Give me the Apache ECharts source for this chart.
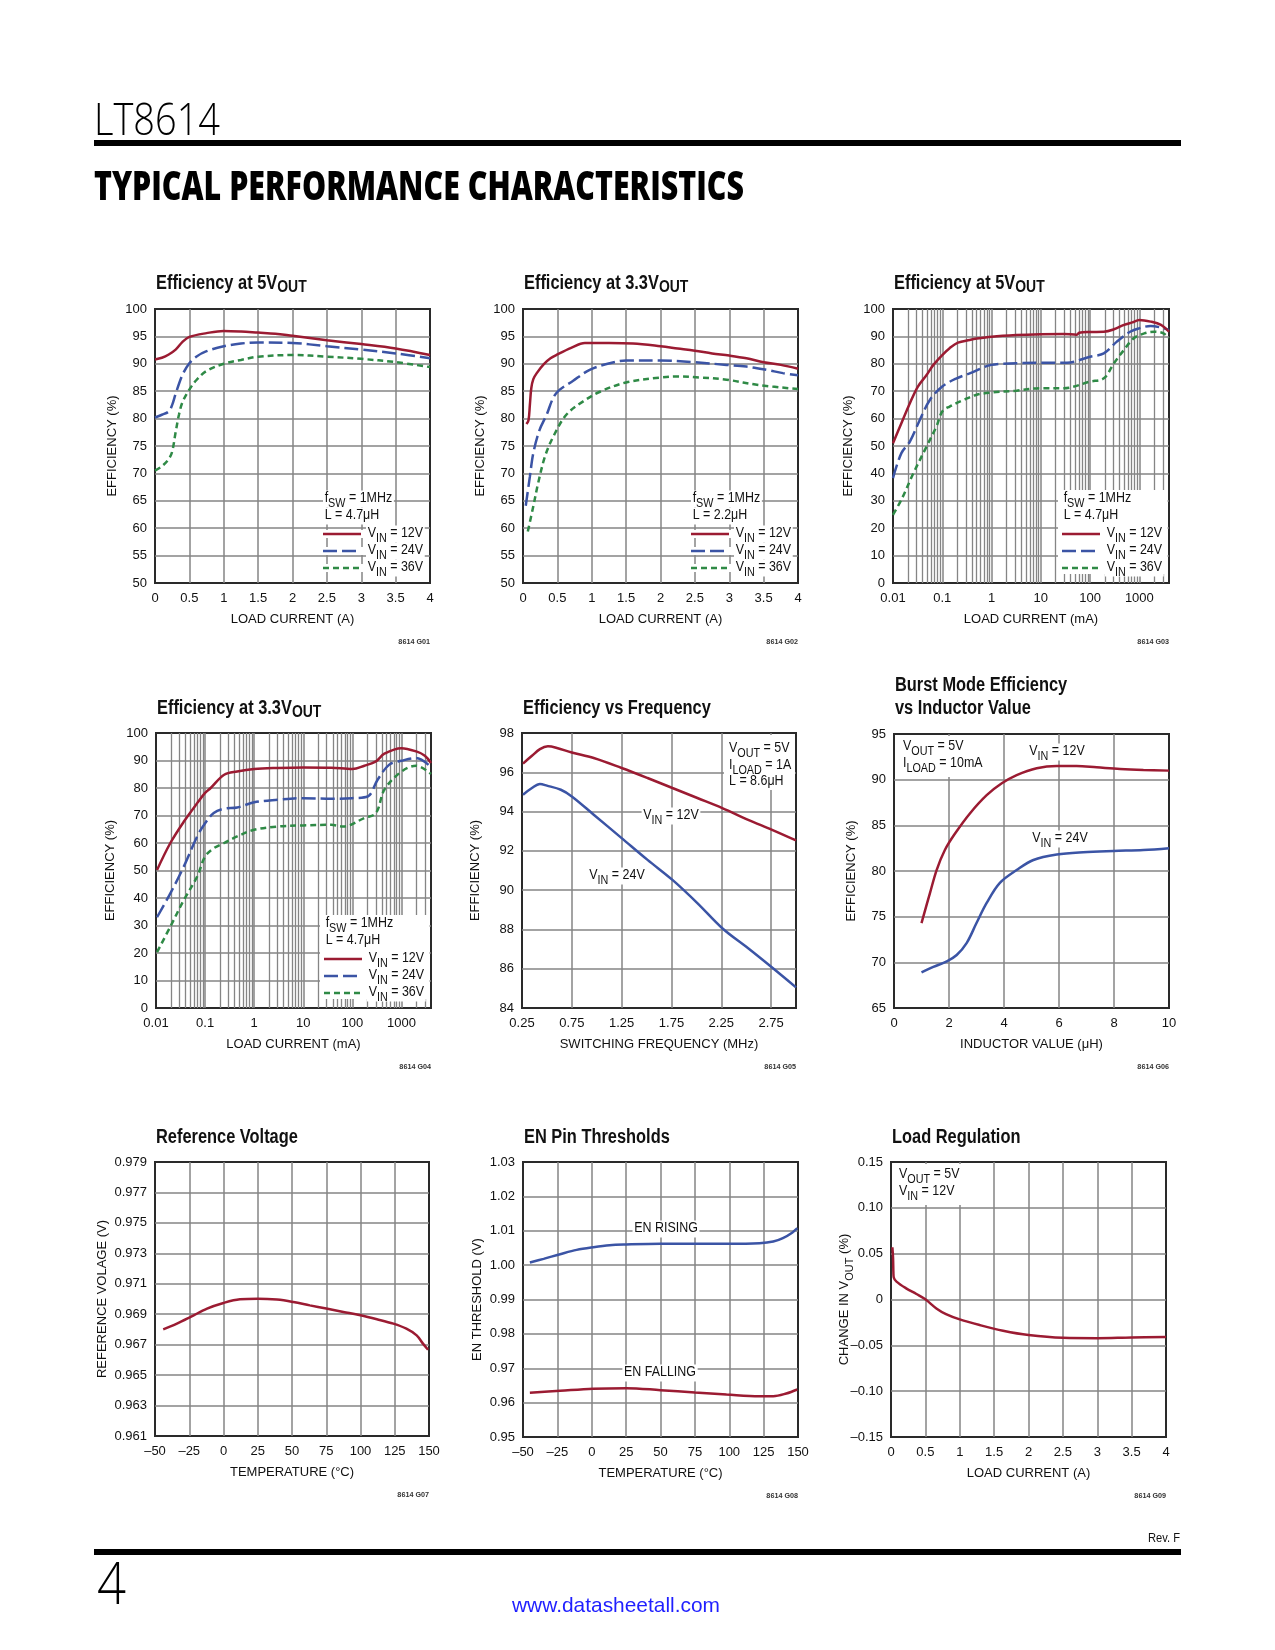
<!DOCTYPE html>
<html><head><meta charset="utf-8"><title>LT8614 Typical Performance Characteristics</title>
<script src="https://cdn.jsdelivr.net/npm/echarts@6/dist/echarts.min.js"></script>
<style>html,body{margin:0;padding:0;background:#fff;}#chart{width:1275px;height:1650px;}</style>
</head><body><div id="chart"></div>
<script>
// ================= DATA =================
// G01 Efficiency at 5VOUT, fSW=1MHz, L=4.7uH  [load current A, efficiency %]
const g1_vin12 = [[0,90.8],[0.1,91.1],[0.2,91.7],[0.3,92.6],[0.4,94.0],[0.5,94.9],[0.75,95.6],[1.0,96.0],[1.25,95.9],[1.5,95.7],[1.75,95.5],[2.0,95.1],[2.5,94.3],[3.0,93.6],[3.5,92.8],[4.0,91.6]];
const g1_vin24 = [[0,80.2],[0.1,80.7],[0.2,81.3],[0.25,82.5],[0.3,84.5],[0.4,88.0],[0.5,90.1],[0.6,91.3],[0.75,92.3],[1.0,93.2],[1.25,93.7],[1.5,93.9],[2.0,93.8],[2.5,93.2],[3.0,92.6],[3.5,91.9],[4.0,91.0]];
const g1_vin36 = [[0,70.5],[0.1,71.3],[0.2,72.6],[0.25,74.0],[0.3,77.5],[0.35,80.8],[0.4,83.0],[0.5,85.3],[0.6,87.0],[0.75,88.7],[1.0,90.0],[1.25,90.7],[1.5,91.3],[2.0,91.6],[2.5,91.3],[3.0,90.9],[3.5,90.3],[4.0,89.4]];
// G02 Efficiency at 3.3VOUT, L=2.2uH
const g2_vin12 = [[0.05,79.0],[0.08,79.7],[0.1,82.5],[0.12,85.5],[0.15,87.2],[0.2,88.3],[0.3,89.9],[0.4,91.0],[0.5,91.7],[0.7,92.9],[0.9,93.8],[1.25,93.8],[1.6,93.7],[2.0,93.2],[2.25,92.8],[2.5,92.4],[2.75,91.9],[3.0,91.5],[3.25,91.0],[3.5,90.3],[3.75,89.8],[4.0,89.1]];
const g2_vin24 = [[0.04,64.1],[0.1,69.4],[0.15,73.7],[0.24,77.9],[0.34,80.6],[0.48,84.6],[0.73,86.9],[0.97,88.9],[1.26,90.1],[1.5,90.6],[2.0,90.6],[2.47,90.3],[2.96,89.8],[3.25,89.5],[3.54,88.9],[3.78,88.3],[4.0,87.9]];
const g2_vin36 = [[0.07,59.4],[0.15,64.0],[0.22,68.2],[0.32,73.1],[0.44,76.7],[0.63,80.7],[0.87,83.1],[1.12,84.9],[1.5,86.6],[2.0,87.5],[2.23,87.7],[2.57,87.5],[2.96,87.1],[3.44,86.1],[4.0,85.4]];
// G03 Efficiency at 5VOUT (log load current, mA)
const g3_vin12 = [[0.01,51.0],[0.0148,58.3],[0.022,65.6],[0.032,71.7],[0.048,75.9],[0.066,79.6],[0.1,83.2],[0.141,85.7],[0.208,87.7],[0.36,88.7],[0.5,89.2],[1,89.9],[3.2,90.5],[10,90.8],[29,90.9],[54,90.6],[60,91.3],[100,91.6],[190,91.7],[305,92.6],[490,94.2],[720,95.1],[1000,96.0],[1700,95.4],[2750,94.2],[4000,91.7]];
const g3_vin24 = [[0.01,38.3],[0.0148,47.4],[0.022,51.6],[0.035,59.5],[0.056,66.8],[0.1,71.7],[0.196,74.7],[0.36,76.5],[1,79.6],[3.2,80.2],[10,80.4],[34,80.4],[100,82.6],[190,83.8],[350,88.1],[650,91.7],[1000,93.0],[1700,93.8],[3100,93.0],[4000,92.3]];
const g3_vin36 = [[0.01,24.9],[0.0148,30.4],[0.026,40.1],[0.048,49.8],[0.076,57.1],[0.1,62.6],[0.141,64.4],[0.27,66.8],[0.5,68.7],[1,69.5],[3.2,70.2],[10,71.1],[29,71.1],[100,73.5],[190,74.7],[305,80.2],[490,85.1],[770,89.3],[1260,91.1],[2000,91.7],[3100,91.1],[4000,89.3]];
// G04 Efficiency at 3.3VOUT (log load current, mA)
const g4_vin12 = [[0.0105,50.2],[0.0196,60.0],[0.037,67.8],[0.069,74.5],[0.1,78.2],[0.13,80.0],[0.245,84.8],[0.45,86.0],[1,86.9],[3,87.3],[10,87.5],[37,87.4],[100,86.9],[176,88.1],[303,89.7],[450,92.5],[1000,94.5],[2000,93.3],[3000,91.7],[4000,89.1]];
const g4_vin24 = [[0.0105,33.0],[0.0196,41.7],[0.037,51.5],[0.069,62.4],[0.1,67.2],[0.15,70.9],[0.245,72.5],[0.45,72.9],[1,74.8],[3,75.7],[10,76.3],[37,76.1],[100,76.3],[205,76.9],[327,83.0],[565,88.5],[1000,89.9],[2000,90.9],[4000,87.6]];
const g4_vin36 = [[0.0105,20.3],[0.0196,29.6],[0.037,39.3],[0.069,47.8],[0.1,55.1],[0.15,58.1],[0.245,60.0],[0.45,62.4],[1,64.8],[3,66.0],[10,66.4],[37,66.6],[66,66.0],[176,69.1],[303,70.9],[450,79.4],[1000,86.0],[2000,88.1],[4000,85.1]];
// G05 Efficiency vs Frequency [MHz, %]
const g5_vin12 = [[0.26,96.44],[0.35,96.84],[0.43,97.18],[0.51,97.32],[0.6,97.24],[0.75,97.01],[0.97,96.73],[1.25,96.22],[1.51,95.71],[1.76,95.20],[2.01,94.69],[2.26,94.18],[2.52,93.58],[2.76,93.07],[3.0,92.53]];
const g5_vin24 = [[0.26,94.86],[0.35,95.20],[0.43,95.40],[0.5,95.32],[0.64,95.11],[0.75,94.77],[0.97,93.84],[1.25,92.65],[1.51,91.54],[1.76,90.52],[2.01,89.34],[2.26,88.06],[2.52,87.04],[2.76,86.06],[3.0,85.05]];
// G06 Burst Mode Efficiency vs Inductor Value [uH, %]
const g6_vin12 = [[1.0,74.3],[1.31,77.6],[1.55,80.1],[1.85,82.3],[2.22,84.1],[2.76,86.3],[3.37,88.3],[3.92,89.6],[4.46,90.5],[5.19,91.25],[5.92,91.5],[6.64,91.5],[7.37,91.35],[8.22,91.17],[9.07,91.06],[10,90.99]];
const g6_vin24 = [[1.0,68.9],[1.43,69.5],[1.92,70.1],[2.28,70.8],[2.64,72.1],[3.0,74.3],[3.37,76.5],[3.85,78.7],[4.46,80.1],[5.07,81.2],[5.92,81.8],[6.88,82.06],[7.98,82.2],[9.07,82.3],[10,82.5]];
// G07 Reference Voltage [degC, V]
const g7_vref = [[-44,0.96801],[-34,0.96838],[-24,0.96882],[-12,0.96937],[0,0.96974],[12,0.96998],[25,0.97002],[39,0.96996],[51,0.96980],[63,0.96958],[75,0.96937],[87.5,0.96915],[100,0.96893],[112,0.96867],[124,0.96838],[133.5,0.96805],[141,0.96761],[145.6,0.96707],[149.3,0.96667]];
// G08 EN Pin Thresholds [degC, V]
const g8_rising = [[-45,1.00075],[-35,1.00182],[-23,1.00318],[-11,1.00444],[1,1.00522],[13,1.0058],[25,1.006],[50,1.00619],[75,1.00619],[100,1.00619],[122,1.00638],[132,1.00687],[139,1.00784],[146,1.0095],[149.5,1.01076]];
const g8_falling = [[-45,0.96285],[-23,0.96343],[1,0.96404],[25,0.96421],[50,0.96363],[75,0.96294],[98,0.96236],[122,0.96187],[132,0.96187],[141.5,0.96265],[149.5,0.96382]];
// G09 Load Regulation [A, %]
const g9_dvout = [[0.02,0.057],[0.03,0.045],[0.035,0.029],[0.04,0.024],[0.08,0.0195],[0.22,0.0122],[0.37,0.006],[0.5,0.0002],[0.66,-0.0097],[0.8,-0.0159],[1.0,-0.0217],[1.29,-0.0279],[1.63,-0.0341],[2.0,-0.0388],[2.5,-0.0418],[3.0,-0.0422],[3.5,-0.0414],[4.0,-0.041]];

// tick labels
const logTicks = ['0.01','0.1','1','10','100','1000'];
const freqTicks = ['0.25','0.75','1.25','1.75','2.25','2.75'];
const vrefTicks = ['0.961','0.963','0.965','0.967','0.969','0.971','0.973','0.975','0.977','0.979'];
const vinLabels = ['12V','24V','36V'];

// ================= STYLE / LAYOUT =================
function fontAvail(name){
  const c=document.createElement('canvas').getContext('2d');
  const t='LOAD CURRENT 0.123456789 EFFICIENCY (%)';
  c.font='40px monospace'; const a=c.measureText(t).width;
  c.font='40px "'+name+'", monospace'; const b=c.measureText(t).width;
  return Math.abs(a-b)>0.5;
}
const NARROW = fontAvail('Liberation Sans Narrow');
const FAM = NARROW ? '"Liberation Sans Narrow", "Liberation Sans", sans-serif' : '"Liberation Sans", Arial, sans-serif';
const GSCALE = NARROW ? 1 : 0.83;
const AX_FS = NARROW ? 15 : 13;
const RED='#9b1b32', BLUE='#3b54a5', GREEN='#2f8a46', GRID_C='#858585', BORDER='#2a2a2a', TXT='#111';
const DASH_B=[14,5], DASH_G=[6,4];
const HEAD_LIGHT = '"Open Sans", Lato, "Liberation Sans", sans-serif';

const GRIDS = [
 {left:155, top:309, width:275, height:274},
 {left:523, top:309, width:275, height:274},
 {left:893, top:309, width:276, height:274},
 {left:156, top:733, width:275, height:275},
 {left:522, top:733, width:274, height:275},
 {left:894, top:734, width:275, height:274},
 {left:155, top:1162, width:274, height:274},
 {left:523, top:1162, width:275, height:275},
 {left:891, top:1162, width:275, height:275}
];

function mw(text, font){ const c=document.createElement('canvas').getContext('2d'); c.font=font; return c.measureText(text).width; }

// rich text with subscripts: parts = [[str,'n'|'s'],...]
function rt(x, y, parts, o){
  o = o || {};
  const fs=o.fs||15, sfs=o.sfs||(fs-2), pad=(o.pad!=null?o.pad:6), wt=o.bold?'bold':'normal';
  const base={fontFamily:FAM, fontWeight:wt, fill:o.color||TXT, verticalAlign:'top'};
  const st={
    text: parts.map(p=>'{'+(p[1]||'n')+'|'+p[0]+'}').join(''),
    align:o.align||'left', textAlign:o.align||'left', verticalAlign:'middle', textVerticalAlign:'middle',
    rich:{ n:Object.assign({}, base, {fontSize:fs, lineHeight:fs+2}),
           s:Object.assign({}, base, {fontSize:sfs, lineHeight:sfs, padding:[pad,0,0,0]}) }
  };
  if (o.bg){ st.backgroundColor=o.bg; st.padding=[0,2]; }
  return {type:'text', x:x, y:y, z:(o.z!=null?o.z:6), scaleX:(o.scale!=null?o.scale:GSCALE), silent:true, style:st};
}
function fitText(text, x, y, fs, weight, family, targetW, color, align){
  const w = mw(text, weight+' '+fs+'px '+family);
  return {type:'text', x:x, y:y, z:6, scaleX:targetW/w, silent:true,
    style:{text:text, fontSize:fs, fontWeight:weight, fontFamily:family, fill:color||'#000',
      align:align||'left', textAlign:align||'left', verticalAlign:'middle', textVerticalAlign:'middle'}};
}

const els = [];
// header / footer
els.push({type:'rect', z:6, silent:true, shape:{x:94, y:140, width:1087, height:6}, style:{fill:'#000'}});
els.push({type:'rect', z:6, silent:true, shape:{x:94, y:1549, width:1087, height:6}, style:{fill:'#000'}});
els.push(fitText('LT8614', 94, 122, 44, 300, HEAD_LIGHT, 126, '#000'));
els.push(fitText('TYPICAL PERFORMANCE CHARACTERISTICS', 94, 189, 40, 800, HEAD_LIGHT, 650, '#000'));
els.push(fitText('4', 97, 1587, 58, 300, HEAD_LIGHT, 29, '#000'));
els.push(fitText('www.datasheetall.com', 616, 1606, 21, 'normal', FAM, 208, '#1f1fff', 'center'));
els.push(fitText('Rev. F', 1180, 1538, 13, 'normal', FAM, 32, '#111', 'right'));

// titles
const T = {fs:20, sfs:17, pad:6, bold:true, scale: NARROW?1:0.82};
const titles = [
  [[['Efficiency at 5V'],['OUT','s']]],
  [[['Efficiency at 3.3V'],['OUT','s']]],
  [[['Efficiency at 5V'],['OUT','s']]],
  [[['Efficiency at 3.3V'],['OUT','s']]],
  [[['Efficiency vs Frequency']]],
  [[['Burst Mode Efficiency']],[['vs Inductor Value']]],
  [[['Reference Voltage']]],
  [[['EN Pin Thresholds']]],
  [[['Load Regulation']]]
];
const titleY = [284,284,284,709,709,686,1138,1138,1138];
titles.forEach((lines, i) => {
  const g = GRIDS[i];
  lines.forEach((parts, k) => els.push(rt(g.left+1, titleY[i] + k*23, parts, T)));
  els.push(rt(g.left+g.width, g.top+g.height+60, [['8614 G0'+(i+1)]], {fs:8, bold:true, align:'right', scale:0.9, color:'#333'}));
});

// legends for efficiency charts
function legend(gi, L, solidBox){
  const g=GRIDS[gi], R=g.left+g.width, B=g.top+g.height, x0=R-107;
  if (solidBox) els.push({type:'rect', z:3, silent:true, shape:{x:x0-4, y:B-93, width:R-x0+2.5, height:84}, style:{fill:'#fff'}});
  els.push(rt(x0, B-84, [['f'],['SW','s'],[' = 1MHz']], {bg:'#fff'}));
  els.push(rt(x0, B-67, [['L = '+L]], {bg:'#fff'}));
  const st=[[RED,null],[BLUE,DASH_B],[GREEN,DASH_G]];
  vinLabels.forEach((lab,k) => {
    const y=B-49+k*17;
    els.push({type:'rect', z:3, silent:true, shape:{x:x0-2, y:y-4, width:43, height:8}, style:{fill:'#fff'}});
    els.push({type:'line', z:7, silent:true, shape:{x1:x0, y1:y, x2:x0+38, y2:y}, style:{stroke:st[k][0], lineWidth:2.5, lineDash:st[k][1]}});
    els.push(rt(x0+43, y, [['V'],['IN','s'],[' = '+lab]], {bg:'#fff'}));
  });
}
legend(0,'4.7μH',false); legend(1,'2.2μH',false); legend(2,'4.7μH',true); legend(3,'4.7μH',true);

// G05 annotations
els.push({type:'rect', z:3, silent:true, shape:{x:724, y:735, width:71, height:55}, style:{fill:'#fff'}});
els.push(rt(729, 749, [['V'],['OUT','s'],[' = 5V']]));
els.push(rt(729, 766, [['I'],['LOAD','s'],[' = 1A']]));
els.push(rt(729, 782, [['L = 8.6μH']]));
els.push(rt(671, 816, [['V'],['IN','s'],[' = 12V']], {bg:'#fff', align:'center'}));
els.push(rt(617, 876, [['V'],['IN','s'],[' = 24V']], {bg:'#fff', align:'center'}));
// G06 annotations
els.push({type:'rect', z:3, silent:true, shape:{x:896, y:736, width:91, height:41}, style:{fill:'#fff'}});
els.push(rt(903, 747, [['V'],['OUT','s'],[' = 5V']]));
els.push(rt(903, 764, [['I'],['LOAD','s'],[' = 10mA']]));
els.push(rt(1057, 752, [['V'],['IN','s'],[' = 12V']], {bg:'#fff', align:'center'}));
els.push(rt(1060, 839, [['V'],['IN','s'],[' = 24V']], {bg:'#fff', align:'center'}));
// G08 annotations
els.push(rt(666, 1229, [['EN RISING']], {bg:'#fff', align:'center'}));
els.push(rt(660, 1373, [['EN FALLING']], {bg:'#fff', align:'center'}));
// G09 annotations
els.push({type:'rect', z:3, silent:true, shape:{x:893, y:1164, width:70, height:41}, style:{fill:'#fff'}});
els.push(rt(899, 1175, [['V'],['OUT','s'],[' = 5V']]));
els.push(rt(899, 1192, [['V'],['IN','s'],[' = 12V']]));

// ================= AXES =================
const AL = {fontFamily:FAM, fontSize:AX_FS, color:TXT};
const NT = {fontFamily:FAM, fontSize:AX_FS, color:TXT};
function splitL(show){ return {show:show, showMinLine:false, showMaxLine:false, lineStyle:{color:GRID_C, width:1.5}}; }
function valAxis(i, o, isY){
  const ax = {type:'value', gridIndex:i, min:o.min, max:o.max, interval:o.interval,
    name:o.name, nameLocation:'middle', nameGap:o.gap, nameMoveOverlap:false,
    nameTextStyle:Object.assign({}, NT, o.rich?{rich:o.rich}:{}),
    axisLine:{show:false, onZero:false}, axisTick:{show:false},
    axisLabel:Object.assign({margin:isY?8:9}, AL),
    splitLine:splitL(o.split!==false)};
  if (o.fmt) ax.axisLabel.formatter = o.fmt;
  if (isY) ax.nameRotate = 90;
  return ax;
}
function logAxis(i, name, gap){
  return {type:'log', logBase:10, gridIndex:i, min:0.01, max:4000, name:name, nameLocation:'middle', nameGap:gap, nameMoveOverlap:false,
    nameTextStyle:NT, axisLine:{show:false, onZero:false}, axisTick:{show:false},
    axisLabel:Object.assign({margin:9, showMaxLabel:false, formatter: v => {
      const hit = logTicks.find(t => Math.abs(Math.log10(+t) - Math.log10(v)) < 1e-6); return hit || ''; }}, AL),
    splitLine:splitL(true)};
}
const dash = v => v < 0 ? '\u2013' + (-v) : String(v);
const xAxes = [
  valAxis(0, {min:0, max:4, interval:0.5, name:'LOAD CURRENT (A)', gap:30}),
  valAxis(1, {min:0, max:4, interval:0.5, name:'LOAD CURRENT (A)', gap:30}),
  logAxis(2, 'LOAD CURRENT (mA)', 30),
  logAxis(3, 'LOAD CURRENT (mA)', 30),
  valAxis(4, {min:0.25, max:3, interval:0.25, name:'SWITCHING FREQUENCY (MHz)', gap:30, split:false,
    fmt: v => { const s=v.toFixed(2); return freqTicks.includes(s) ? s : ''; }}),
  valAxis(5, {min:0, max:10, interval:2, name:'INDUCTOR VALUE (μH)', gap:30}),
  valAxis(6, {min:-50, max:150, interval:25, name:'TEMPERATURE (°C)', gap:30, fmt:dash}),
  valAxis(7, {min:-50, max:150, interval:25, name:'TEMPERATURE (°C)', gap:30, fmt:dash}),
  valAxis(8, {min:0, max:4, interval:0.5, name:'LOAD CURRENT (A)', gap:30})
];
const subRich = {n:{fontFamily:FAM, fontSize:AX_FS, color:TXT, verticalAlign:'top', lineHeight:AX_FS+2},
                 s:{fontFamily:FAM, fontSize:AX_FS-2, color:TXT, verticalAlign:'top', lineHeight:AX_FS-2, padding:[6,0,0,0]}};
const yAxes = [
  valAxis(0, {min:50, max:100, interval:5, name:'EFFICIENCY (%)', gap:36}, true),
  valAxis(1, {min:50, max:100, interval:5, name:'EFFICIENCY (%)', gap:36}, true),
  valAxis(2, {min:0, max:100, interval:10, name:'EFFICIENCY (%)', gap:38}, true),
  valAxis(3, {min:0, max:100, interval:10, name:'EFFICIENCY (%)', gap:39}, true),
  valAxis(4, {min:84, max:98, interval:2, name:'EFFICIENCY (%)', gap:40}, true),
  valAxis(5, {min:65, max:95, interval:5, name:'EFFICIENCY (%)', gap:36}, true),
  valAxis(6, {min:0.961, max:0.979, interval:0.001, name:'REFERENCE VOLAGE (V)', gap:46, split:false,
    fmt: v => { const s=v.toFixed(3); return vrefTicks.includes(s) ? s : ''; }}, true),
  valAxis(7, {min:0.95, max:1.03, interval:0.01, name:'EN THRESHOLD (V)', gap:39, fmt: v => v.toFixed(2)}, true),
  valAxis(8, {min:-0.15, max:0.15, interval:0.05, name:'{n|CHANGE IN V}{s|OUT}{n| (%)}', gap:38, rich:subRich,
    fmt: v => Math.abs(v) < 1e-9 ? '0' : (v < 0 ? '\u2013' : '') + Math.abs(v).toFixed(2)}, true)
];

// ================= SERIES =================
const series = [];
function addLine(gi, data, color, dashType){
  series.push({type:'line', xAxisIndex:gi, yAxisIndex:gi, data:data, symbol:'none', showSymbol:false,
    smooth:0.35, z:5, silent:true, animation:false, emphasis:{disabled:true},
    lineStyle:{color:color, width:2.5, type:dashType || 'solid', cap:'butt'}});
}
function addGridLines(gi, axis, vals, width){
  series.push({type:'line', xAxisIndex:gi, yAxisIndex:gi, data:[], z:1, silent:true, animation:false,
    markLine:{z:1, precision:6, silent:true, animation:false, symbol:['none','none'], label:{show:false}, emphasis:{disabled:true},
      lineStyle:{color:GRID_C, width:width, type:'solid'}, data: vals.map(v => ({[axis]: v}))}});
}
// minor log grid lines (2..9 per decade)
const minorLog = [];
for (let e=-2; e<=3; e++) for (let k=2; k<=9; k++){ const v=+(k*Math.pow(10,e)).toPrecision(3); if (v<4000) minorLog.push(v); }
addGridLines(2, 'xAxis', minorLog, 1.3);
addGridLines(3, 'xAxis', minorLog, 1.3);
addGridLines(4, 'xAxis', freqTicks.slice(1).map(Number), 1.5);
addGridLines(6, 'yAxis', vrefTicks.slice(1, -1).map(Number), 1.5);

addLine(0, g1_vin36, GREEN, DASH_G); addLine(0, g1_vin24, BLUE, DASH_B); addLine(0, g1_vin12, RED);
addLine(1, g2_vin36, GREEN, DASH_G); addLine(1, g2_vin24, BLUE, DASH_B); addLine(1, g2_vin12, RED);
addLine(2, g3_vin36, GREEN, DASH_G); addLine(2, g3_vin24, BLUE, DASH_B); addLine(2, g3_vin12, RED);
addLine(3, g4_vin36, GREEN, DASH_G); addLine(3, g4_vin24, BLUE, DASH_B); addLine(3, g4_vin12, RED);
addLine(4, g5_vin24, BLUE); addLine(4, g5_vin12, RED);
addLine(5, g6_vin24, BLUE); addLine(5, g6_vin12, RED);
addLine(6, g7_vref, RED);
addLine(7, g8_rising, BLUE); addLine(7, g8_falling, RED);
addLine(8, g9_dvout, RED);

const chart = echarts.init(document.getElementById('chart'), null, {renderer:'canvas'});
chart.setOption({
  backgroundColor:'#ffffff',
  animation:false,
  grid: GRIDS.map(g => Object.assign({show:true, borderColor:BORDER, borderWidth:2, backgroundColor:'transparent',
    containLabel:false, outerBoundsMode:'none'}, g)),
  xAxis: xAxes,
  yAxis: yAxes,
  series: series,
  graphic: {elements: els}
});
</script></body></html>
